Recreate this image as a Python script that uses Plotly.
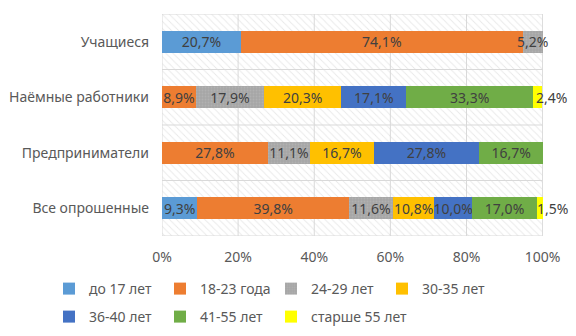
import plotly.graph_objects as go

# Respondent groups, bottom to top
groups = ["Все опрошенные", "Предприниматели", "Наёмные работники", "Учащиеся"]

# Age bands and their colours
age_bands = ["до 17 лет", "18-23 года", "24-29 лет", "30-35 лет",
             "36-40 лет", "41-55 лет", "старше 55 лет"]
colors = ["#5B9BD5", "#ED7D31", "#A5A5A5", "#FFC000",
          "#4472C4", "#70AD47", "#FFFF00"]

# Share of each age band within a group, % (None = band absent)
under_17 = [9.3, None, None, 20.7]
age_18_23 = [39.8, 27.8, 8.9, 74.1]
age_24_29 = [11.6, 11.1, 17.9, 5.2]
age_30_35 = [10.8, 16.7, 20.3, None]
age_36_40 = [10.0, 27.8, 17.1, None]
age_41_55 = [17.0, 16.7, 33.3, None]
over_55 = [1.5, None, 2.4, None]

series = [under_17, age_18_23, age_24_29, age_30_35, age_36_40, age_41_55, over_55]

# x-axis ticks (percent)
x_ticks = [0, 20, 40, 60, 80, 100]
x_tick_labels = [f"{t}%" for t in x_ticks]

FONT = "Noto Sans"
FS = 14
GRID = "#D9D9D9"
N = len(groups)

fig = go.Figure()

# hatched plot-area fill on the base axes
fig.add_trace(go.Bar(
    x=[x_ticks[-1]], y=[N / 2], base=0, width=N, orientation="h",
    marker=dict(color="white", line=dict(width=0),
                pattern=dict(shape="\\", fgcolor="#D2D2D2",
                             bgcolor="white", size=5, solidity=0.18)),
    hoverinfo="skip", showlegend=False,
    xaxis="x", yaxis="y",
))

# grid drawn over the hatch: verticals at ticks, horizontals at group borders
gx, gy = [], []
for t in x_ticks:
    gx += [t, t, None]
    gy += [0, N, None]
for k in range(N + 1):
    gx += [0, x_ticks[-1], None]
    gy += [k, k, None]
fig.add_trace(go.Scatter(
    x=gx, y=gy, mode="lines", line=dict(color=GRID, width=1),
    hoverinfo="skip", showlegend=False, xaxis="x", yaxis="y",
    cliponaxis=False,
))

# legend rows: four bands on the first row, three on the second;
# the last band gets its own legend so its longer name is not clipped
legend_of = ["legend", "legend", "legend", "legend",
             "legend2", "legend2", "legend3"]

for name, vals, col, lg in zip(age_bands, series, colors, legend_of):
    marker = dict(color=col, line=dict(width=0))
    if name == "24-29 лет":
        marker["pattern"] = dict(shape=".", fgcolor="#BDBDBD", bgcolor=col,
                                 size=3, solidity=0.35)
    fig.add_trace(go.Bar(
        x=vals, y=groups, name=name, orientation="h",
        marker=marker,
        texttemplate="%{x:.1f}%",
        textposition="inside",
        insidetextanchor="start" if name == "старше 55 лет" else "middle",
        textangle=0,
        textfont=dict(family=FONT, size=FS, color="#404040"),
        cliponaxis=False,
        xaxis="x", yaxis="y2",
        legend=lg,
    ))

PLOT_W = 576 - 162 - 33
PLOT_H = 336 - 14 - 100
ENTRY = 66
STRIDE = ENTRY + 45
LEFT_PX = 49

legend_common = dict(
    orientation="h", xref="paper", yref="paper",
    xanchor="left", yanchor="top",
    entrywidth=ENTRY, traceorder="normal",
    font=dict(family=FONT, size=FS, color="#595959"),
    bgcolor="rgba(0,0,0,0)", itemclick=False, itemdoubleclick=False,
)
row1_y = -(273 - (14 + PLOT_H)) / PLOT_H
row2_y = -(301 - (14 + PLOT_H)) / PLOT_H
x_col1 = (LEFT_PX - 162) / PLOT_W
x_col3 = (LEFT_PX + 2 * STRIDE - 162) / PLOT_W

fig.update_layout(
    width=576, height=336,
    margin=dict(l=162, r=33, t=14, b=100, autoexpand=False),
    paper_bgcolor="white", plot_bgcolor="white",
    barmode="stack", bargap=0.6,
    separators=", ",
    font=dict(family=FONT, size=FS, color="#595959"),
    uniformtext=dict(minsize=FS, mode="show"),
    xaxis=dict(range=[0, 100.1], tickvals=x_ticks, ticktext=x_tick_labels,
               showgrid=False, zeroline=False, showline=False, ticks="",
               ticklabelstandoff=11,
               tickfont=dict(family=FONT, size=FS, color="#595959")),
    yaxis=dict(range=[0, N], showgrid=False, zeroline=False,
               showticklabels=False, ticks="", fixedrange=True),
    yaxis2=dict(overlaying="y", side="left", type="category",
                categoryorder="array", categoryarray=groups,
                range=[-0.5, N - 0.5], showgrid=False, zeroline=False,
                ticks="", ticklabelstandoff=12,
                tickfont=dict(family=FONT, size=FS, color="#595959")),
    legend=dict(legend_common, x=x_col1, y=row1_y),
    legend2=dict(legend_common, x=x_col1, y=row2_y),
    legend3=dict(legend_common, x=x_col3, y=row2_y, entrywidth=120),
)

fig.write_html("out.html")
